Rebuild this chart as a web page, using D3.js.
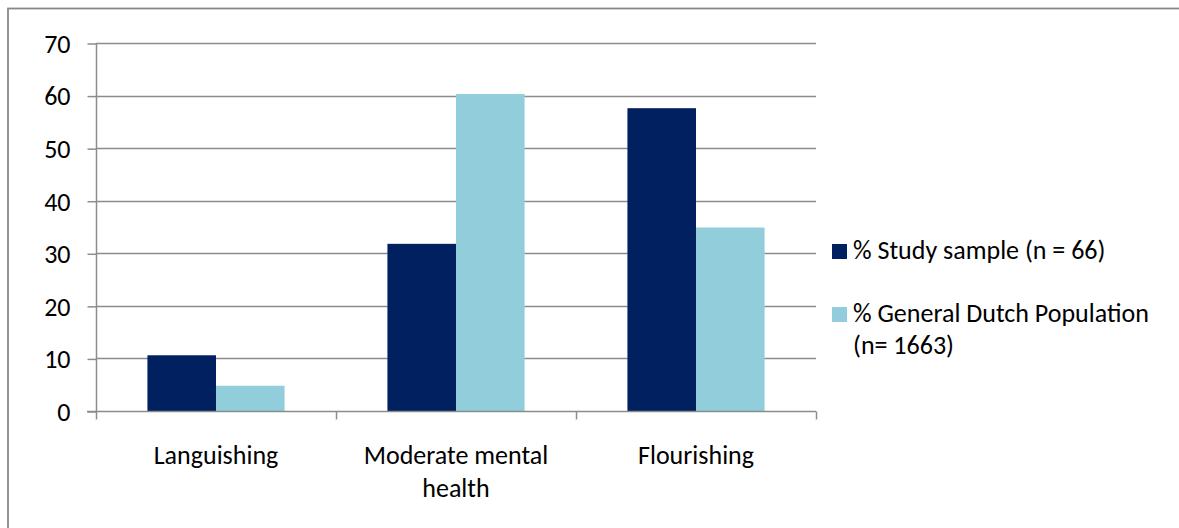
<!DOCTYPE html>
<html>
<head>
<meta charset="utf-8">
<script src="https://cdn.jsdelivr.net/npm/d3@7"></script>
<style>
  html, body { margin: 0; padding: 0; background: #fff; }
  svg { display: block; }
  text { font-family: Carlito, Calibri, Lato, sans-serif; fill: #000; }
</style>
</head>
<body>
<div id="chart"></div>
<script>
const categories = ["Languishing", "Moderate mental health", "Flourishing"];
const categoryLines = [["Languishing"], ["Moderate mental", "health"], ["Flourishing"]];
const seriesNames = ["% Study sample (n = 66)", "% General Dutch Population (n= 1663)"];
const legendLines = [["% Study sample (n = 66)"], ["% General Dutch Population", "(n= 1663)"]];
const studySample = [10.6, 31.8, 57.6];
const dutchPopulation = [4.8, 60.3, 34.9];
const yTicks = [0, 10, 20, 30, 40, 50, 60, 70];
const colors = ["#002060", "#92CDDC"];

const W = 1179, H = 528;
const fontSize = 26;
const svg = d3.select("#chart").append("svg").attr("width", W).attr("height", H);

// outer chart border (only top/left visible in the frame)
svg.append("rect").attr("x", 8).attr("y", 8.5).attr("width", W + 20).attr("height", H + 20)
  .attr("fill", "none").attr("stroke", "#868686").attr("stroke-width", 1.75);

const plot = { left: 96, right: 816, top: 43, bottom: 411 };
const x0 = d3.scaleBand().domain(categories).range([plot.left, plot.right]).paddingInner(0).paddingOuter(0);
const x1 = d3.scaleBand().domain([0, 1]).range([0, x0.bandwidth()]).paddingOuter(0.75).paddingInner(0);
const y = d3.scaleLinear().domain([0, 70]).range([plot.bottom, plot.top]);

// gridlines
svg.append("g").selectAll("line").data(yTicks.filter(t => t > 0)).join("line")
  .attr("x1", plot.left).attr("x2", plot.right)
  .attr("y1", d => Math.round(y(d)) + 0.5).attr("y2", d => Math.round(y(d)) + 0.5)
  .attr("stroke", "#8c8c8c").attr("stroke-width", 1.5);

// bars
const series = [studySample, dutchPopulation];
const barG = svg.append("g");
categories.forEach((c, i) => {
  series.forEach((s, j) => {
    barG.append("rect")
      .attr("x", x0(c) + x1(j))
      .attr("width", x1.bandwidth())
      .attr("y", y(s[i]))
      .attr("height", y(0) - y(s[i]))
      .attr("fill", colors[j]);
  });
});

// y axis
const yAxis = d3.axisLeft(y).tickValues(yTicks).tickSize(9).tickPadding(17);
const gy = svg.append("g").attr("transform", `translate(${plot.left + 0.5},0)`).call(yAxis);
gy.select(".domain").attr("stroke", "#8c8c8c").attr("stroke-width", 1.5).attr("d", `M0,${y(70)}V${y(0)}`);
gy.selectAll(".tick line").attr("stroke", "#8c8c8c").attr("stroke-width", 1.5).attr("transform", "translate(0,0.5)");
gy.selectAll(".tick text").style("font-size", fontSize + "px").attr("font-family", null).attr("fill", "#000").attr("dy", "0.36em");

// x axis
const gx = svg.append("g").attr("transform", `translate(0,${plot.bottom + 0.5})`);
gx.append("line").attr("x1", plot.left - 9).attr("x2", plot.right).attr("stroke", "#8c8c8c").attr("stroke-width", 1.5);
const xTicks = categories.map(c => x0(c)).concat([plot.right]);
gx.selectAll("line.t").data(xTicks).join("line").attr("class", "t")
  .attr("x1", d => Math.round(d) + 0.5).attr("x2", d => Math.round(d) + 0.5).attr("y1", 0).attr("y2", 8)
  .attr("stroke", "#8c8c8c").attr("stroke-width", 1.5);

categories.forEach((c, i) => {
  const t = svg.append("text").attr("x", x0(c) + x0.bandwidth() / 2).attr("y", 464)
    .attr("text-anchor", "middle").style("font-size", fontSize + "px");
  categoryLines[i].forEach((ln, k) => {
    t.append("tspan").attr("x", x0(c) + x0.bandwidth() / 2).attr("dy", k === 0 ? 0 : 33).text(ln);
  });
});

// legend
const legendY = [259, 322];
seriesNames.forEach((s, j) => {
  svg.append("rect").attr("x", 832).attr("y", legendY[j] - 15).attr("width", 15).attr("height", 15).attr("fill", colors[j]);
  const t = svg.append("text").attr("x", 853).attr("y", legendY[j]).style("font-size", fontSize + "px");
  legendLines[j].forEach((ln, k) => {
    t.append("tspan").attr("x", 853).attr("dy", k === 0 ? 0 : 32).text(ln);
  });
});
</script>
</body>
</html>
